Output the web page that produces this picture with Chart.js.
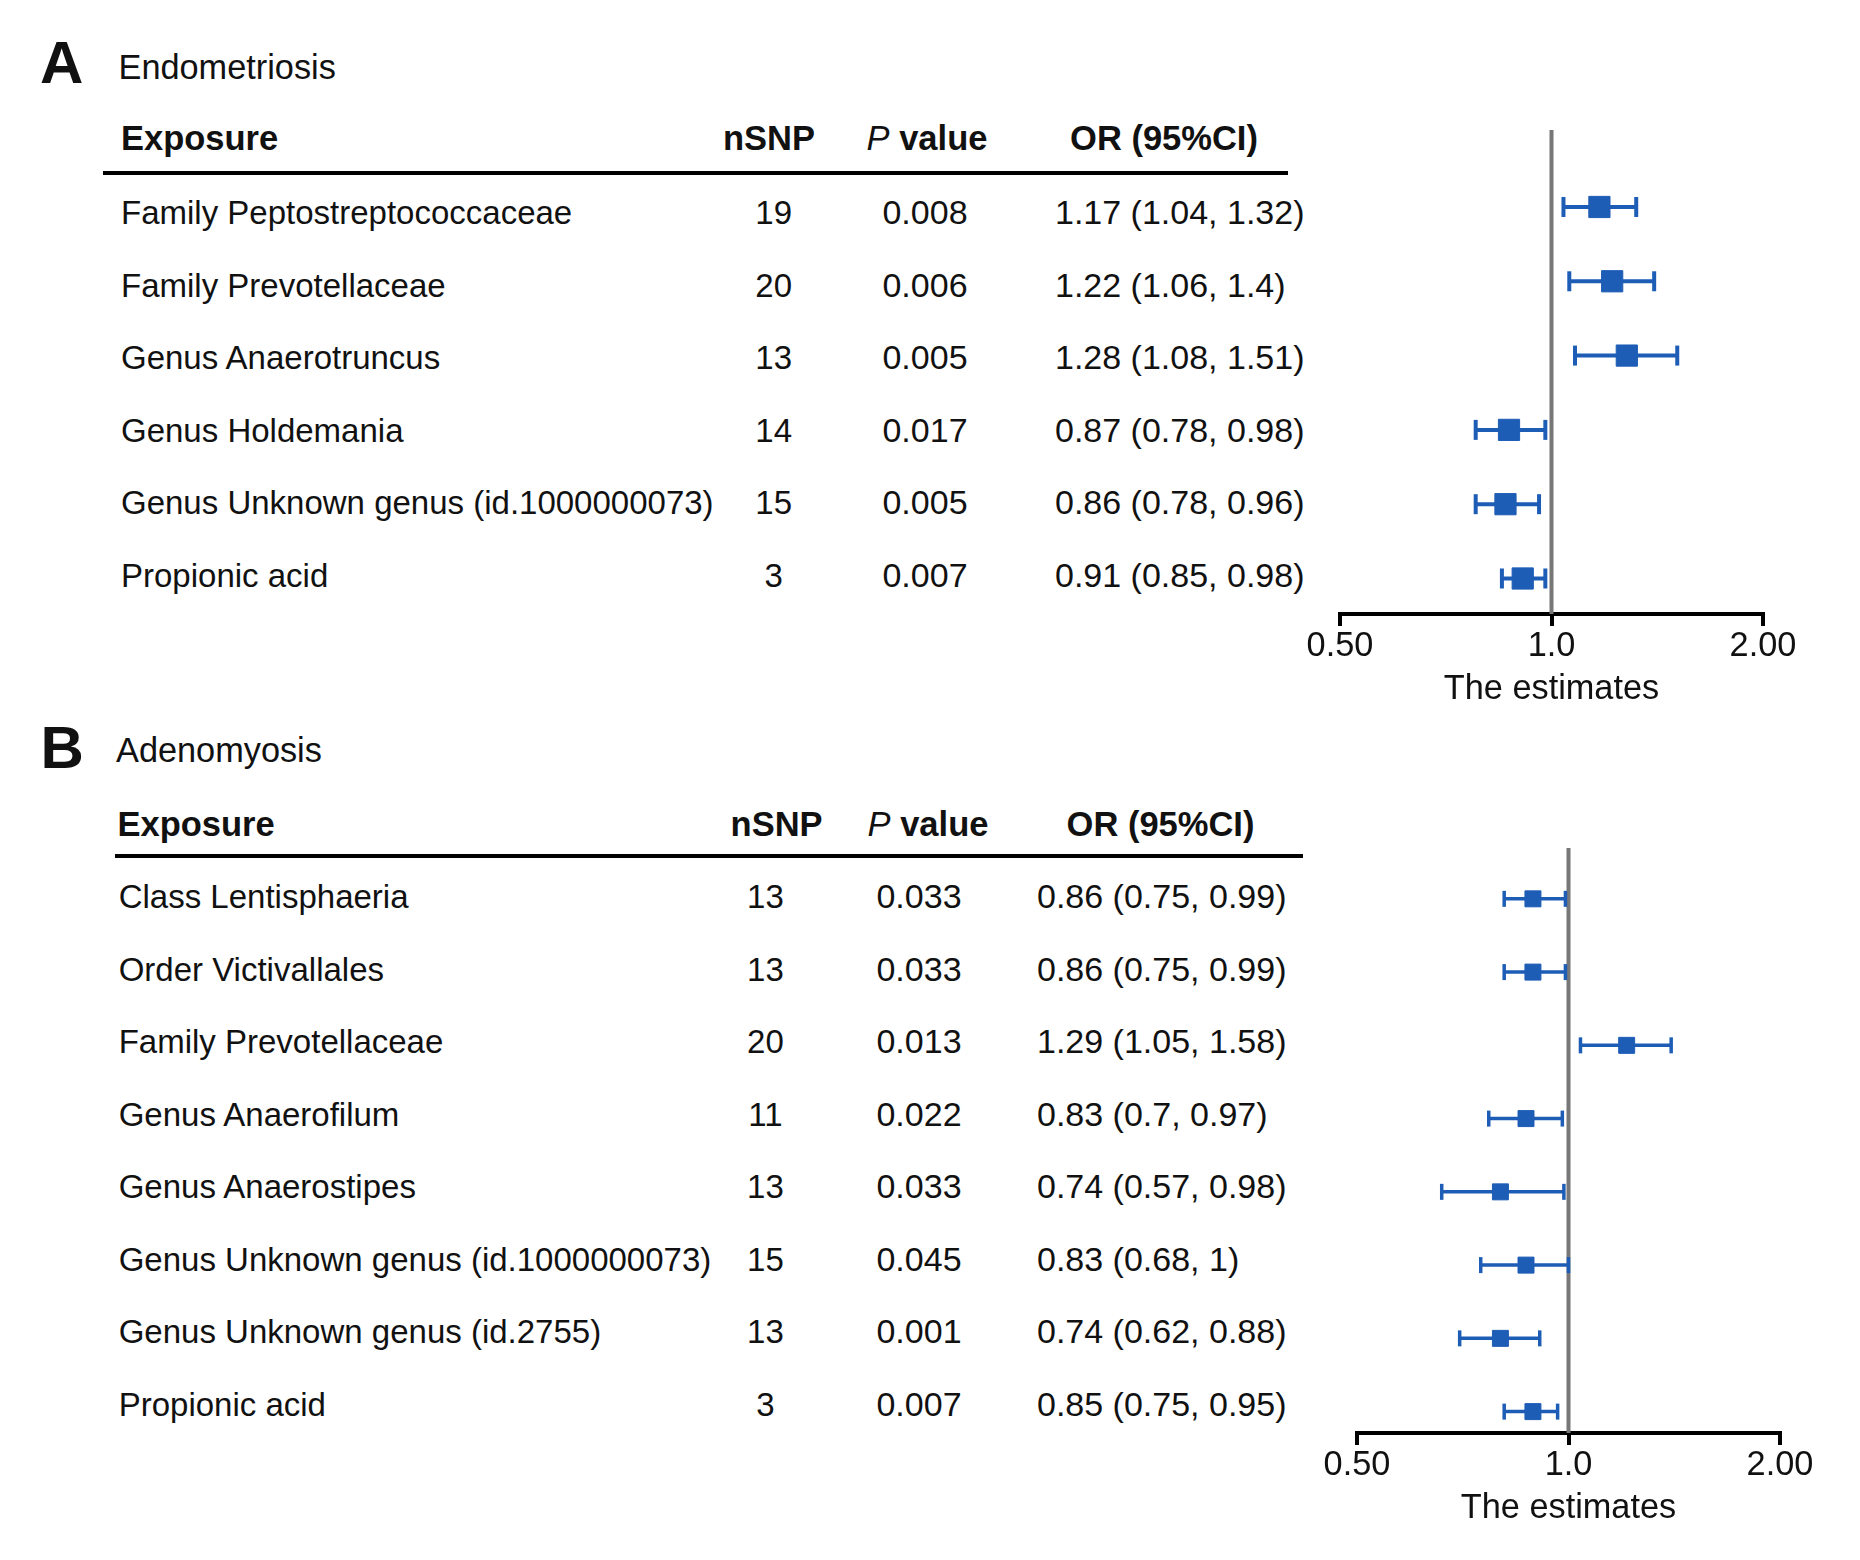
<!DOCTYPE html>
<html><head><meta charset="utf-8">
<script src="https://cdn.jsdelivr.net/npm/chart.js@4.4.1/dist/chart.umd.min.js"></script>
<style>
html,body{margin:0;padding:0;background:#fff;}
body{width:1860px;height:1560px;position:relative;overflow:hidden;font-family:"Liberation Sans",Arial,sans-serif;color:#111;}
.t{position:absolute;white-space:nowrap;font-size:33px;line-height:1;transform:translateY(-50%);}
.c{transform:translate(-50%,-50%);}
.n{font-size:34px;}
.b{font-weight:bold;font-size:34.5px;}
.h{font-size:34.3px;}
.big{position:absolute;font-size:60px;font-weight:bold;line-height:1;}
.rule{position:absolute;height:4px;background:#000;}
canvas{position:absolute;}
</style></head><body>
<div id="root"></div>
<canvas id="fa"></canvas>
<canvas id="fb"></canvas>
<script>
// ---------- Data: Panel A (Endometriosis) ----------
const exposuresA = ["Family Peptostreptococcaceae","Family Prevotellaceae","Genus Anaerotruncus","Genus Holdemania","Genus Unknown genus (id.1000000073)","Propionic acid"];
const nsnpA = [19, 20, 13, 14, 15, 3];
const pvalA = ["0.008","0.006","0.005","0.017","0.005","0.007"];
const orA   = [1.17, 1.22, 1.28, 0.87, 0.86, 0.91];
const lowA  = [1.04, 1.06, 1.08, 0.78, 0.78, 0.85];
const highA = [1.32, 1.4, 1.51, 0.98, 0.96, 0.98];

// ---------- Data: Panel B (Adenomyosis) ----------
const exposuresB = ["Class Lentisphaeria","Order Victivallales","Family Prevotellaceae","Genus Anaerofilum","Genus Anaerostipes","Genus Unknown genus (id.1000000073)","Genus Unknown genus (id.2755)","Propionic acid"];
const nsnpB = [13, 13, 20, 11, 13, 15, 13, 3];
const pvalB = ["0.033","0.033","0.013","0.022","0.033","0.045","0.001","0.007"];
const orB   = [0.86, 0.86, 1.29, 0.83, 0.74, 0.83, 0.74, 0.85];
const lowB  = [0.75, 0.75, 1.05, 0.7, 0.57, 0.68, 0.62, 0.75];
const highB = [0.99, 0.99, 1.58, 0.97, 0.98, 1, 0.88, 0.95];
const plotEstB  = [0.89, 0.89, 1.21, 0.87, 0.80, 0.87, 0.80, 0.89];
const plotLowB  = [0.81, 0.81, 1.04, 0.77, 0.66, 0.75, 0.70, 0.81];
const plotHighB = [0.99, 0.99, 1.40, 0.98, 0.985, 1.0, 0.91, 0.965];

// ---------- Axis ----------
const tickValues = [0.5, 1, 2];
const tickLabels = ["0.50", "1.0", "2.00"];
const axisTitle = "The estimates";
const headers = ["Exposure", "nSNP", "P value", "OR (95%CI)"];

// ---------- Table text (HTML) ----------
const root = document.getElementById('root');
function add(html, cls, style){
  const d = document.createElement('div');
  d.className = cls; d.innerHTML = html; Object.assign(d.style, style); root.appendChild(d);
}
function table(p){
  add(p.letter, 'big', {left:p.letterX+'px', top:p.letterY+'px'});
  add(p.title, 't h', {left:p.titleX+'px', top:p.titleY+'px'});
  add(headers[0], 't b', {left:p.nameX+'px', top:p.headY+'px'});
  add(headers[1], 't b c', {left:p.hN+'px', top:p.headY+'px'});
  add('<i style="font-weight:normal">P</i> value', 't b c', {left:p.hP+'px', top:p.headY+'px'});
  add(headers[3], 't b c', {left:p.hO+'px', top:p.headY+'px'});
  add('', 'rule', {left:p.ruleX+'px', top:p.ruleY+'px', width:p.ruleW+'px'});
  p.names.forEach((nm,i)=>{
    const y = p.row0 + p.step*i;
    add(nm, 't', {left:p.nameX2+'px', top:y+'px'});
    add(String(p.nsnp[i]), 't c', {left:p.cN+'px', top:y+'px'});
    add(p.pval[i], 't c n', {left:p.cP+'px', top:y+'px'});
    add(`${p.or[i]} (${p.lo[i]}, ${p.hi[i]})`, 't n', {left:p.cO+'px', top:y+'px'});
  });
}
table({letter:'A', letterX:40, letterY:33, title:'Endometriosis', titleX:118.5, titleY:66.8,
  headY:137.8, nameX:121, hN:769, hP:927, hO:1164, ruleX:103, ruleY:171, ruleW:1185,
  names:exposuresA, nsnp:nsnpA, pval:pvalA, or:orA, lo:lowA, hi:highA,
  row0:212, step:72.6, nameX2:121, cN:773.7, cP:925, cO:1055});
table({letter:'B', letterX:40.5, letterY:718, title:'Adenomyosis', titleX:116, titleY:750,
  headY:823.5, nameX:117.5, hN:776.6, hP:928, hO:1160.5, ruleX:115, ruleY:853.5, ruleW:1188,
  names:exposuresB, nsnp:nsnpB, pval:pvalB, or:orB, lo:lowB, hi:highB,
  row0:896.3, step:72.5, nameX2:118.7, cN:765.4, cP:919, cO:1037});

// ---------- Forest plots (Chart.js) ----------
const BLUE = '#1E5DB6';
function forest(id, est, lo, hi, o){
  const cv = document.getElementById(id);
  cv.style.left = o.left+'px'; cv.style.top = o.top+'px';
  cv.width = o.width; cv.height = o.height;
  const rows = est.map((_,i)=>i);
  const ci = [], caps = [];
  rows.forEach(i=>{
    ci.push({x:lo[i], y:i}, {x:hi[i], y:i}, {x:hi[i], y:null});
    caps.push({x:lo[i], y:i}, {x:hi[i], y:i});
  });
  const pts = rows.map(i=>({x:est[i], y:i}));
  return new Chart(cv, {
    type:'line',
    data:{datasets:[
      {data:[{x:1,y:o.yMin},{x:1,y:o.yMax}], borderColor:'#777', borderWidth:4, pointRadius:0, order:10},
      {data:ci, borderColor:BLUE, borderWidth:o.lw, pointRadius:0, spanGaps:false, order:3},
      {data:caps, showLine:false, pointStyle:'line', rotation:90, pointRadius:o.cap, pointBorderWidth:o.lw, pointBorderColor:BLUE, borderColor:BLUE, order:2},
      {data:pts, showLine:false, pointStyle:'rect', pointRadius:o.sq, pointBackgroundColor:BLUE, pointBorderColor:BLUE, pointBorderWidth:1, order:1}
    ]},
    options:{
      responsive:false, animation:false, devicePixelRatio:1,
      events:[],
      layout:{padding:{left:o.pl, right:o.pr, top:o.pt, bottom:0}},
      plugins:{legend:{display:false}, tooltip:{enabled:false}},
      scales:{
        x:{type:'logarithmic', min:tickValues[0], max:tickValues[tickValues.length-1],
          afterBuildTicks:s=>{ s.ticks = tickValues.map(v=>({value:v})); },
          afterFit:s=>{ s.height = 100; },
          border:{display:true, color:'#000', width:4},
          grid:{display:true, drawOnChartArea:false, drawTicks:true, tickLength:12, tickWidth:4, tickColor:'#000', color:'#000', lineWidth:4},
          ticks:{autoSkip:false, maxRotation:0, padding:0, color:'#111', font:{family:'Liberation Sans', size:34.3},
            callback:(v,i)=>tickLabels[i]},
          title:{display:true, text:axisTitle, color:'#111', font:{family:'Liberation Sans', size:34.3}, padding:{top:0, bottom:4}}
        },
        y:{type:'linear', display:false, reverse:true, min:o.yMin, max:o.yMax}
      }
    }
  });
}
forest('fa', orA, lowA, highA, {left:1280, top:90, width:560, height:624, pl:60, pr:77, pt:40,
  yMin:-1.036, yMax:5.478, lw:4, cap:10, sq:15});
forest('fb', plotEstB, plotLowB, plotHighB, {left:1290, top:810, width:560, height:723, pl:67, pr:70, pt:38,
  yMin:-0.694, yMax:7.292, lw:3.5, cap:8, sq:11.3});
</script>
</body></html>
